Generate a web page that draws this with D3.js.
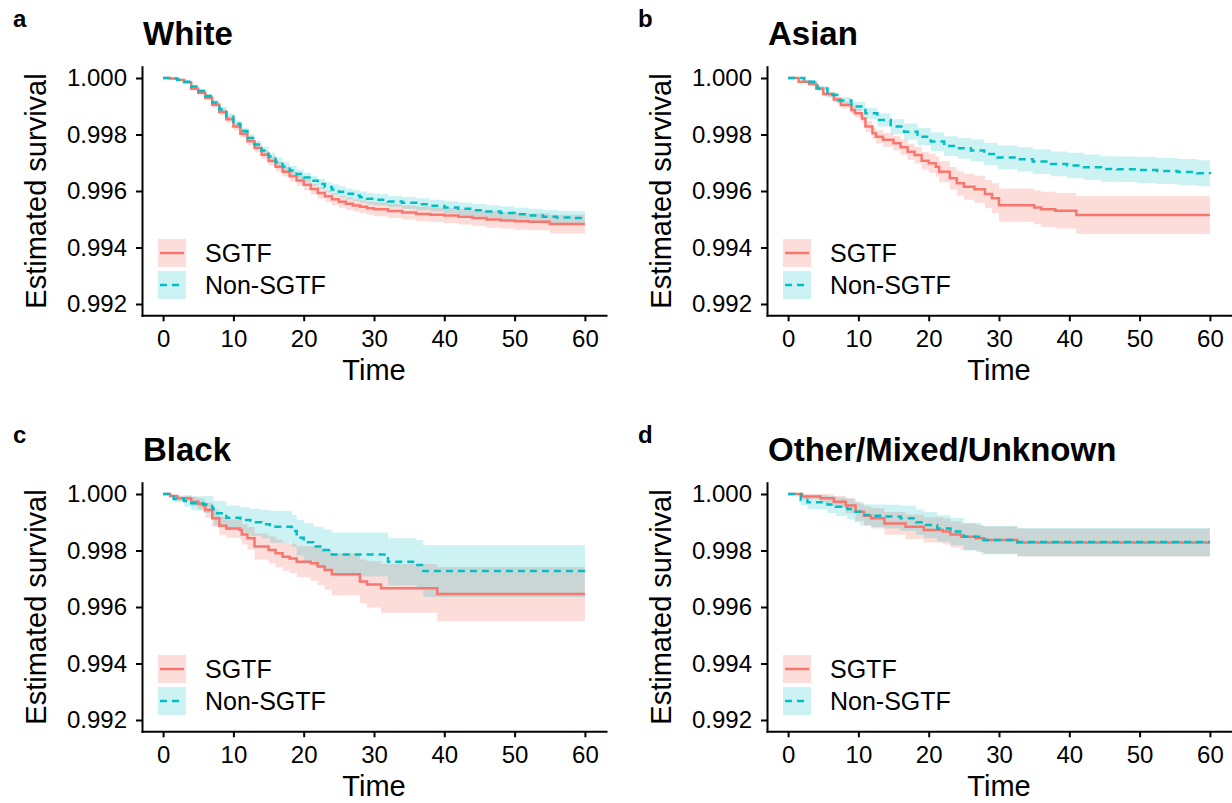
<!DOCTYPE html>
<html>
<head>
<meta charset="utf-8">
<script src="https://d3js.org/d3.v7.min.js"></script>
<title>Survival by ethnicity</title>
<style>
  body { margin: 0; background: #fff; }
  text { font-family: "Liberation Sans", Arial, Helvetica, sans-serif; fill: #000; }
</style>
</head>
<body>
<svg id="chart" width="1232" height="803"></svg>
<script>
// rows: [time, survival, lower, upper]
const whiteSGTF = [
  [0,1,1,1],[1,.99998,.99997,.99999],[2,.99993,.99990,.99996],[3,.99985,.99980,.99990],
  [4,.99962,.99956,.99968],[5,.99948,.99940,.99956],[6,.99930,.99921,.99939],[7,.99905,.99895,.99915],
  [8,.99880,.99869,.99891],[9,.99854,.99842,.99866],[10,.99828,.99815,.99841],[11,.99803,.99789,.99817],
  [12,.99776,.99762,.99790],[13,.99752,.99737,.99767],[14,.99728,.99713,.99743],[15,.99706,.99690,.99722],
  [16,.99686,.99669,.99703],[17,.99668,.99651,.99685],[18,.99652,.99634,.99670],[19,.99637,.99619,.99655],
  [20,.99622,.99603,.99641],[21,.99607,.99588,.99626],[22,.99593,.99573,.99613],[23,.99581,.99561,.99601],
  [24,.99571,.99550,.99592],[25,.99562,.99541,.99583],[26,.99555,.99533,.99577],[27,.99549,.99527,.99571],
  [28,.99544,.99521,.99567],[29,.99539,.99516,.99562],[30,.99535,.99511,.99559],[32,.99529,.99504,.99554],
  [34,.99524,.99499,.99549],[36,.99519,.99493,.99545],[38,.99516,.99490,.99542],[40,.99513,.99486,.99540],
  [42,.99509,.99481,.99537],[44,.99504,.99476,.99532],[46,.99499,.99470,.99528],[48,.99496,.99467,.99525],
  [50,.99493,.99463,.99523],[52,.99491,.99461,.99521],[55,.99483,.99450,.99516],[60,.99483,.99450,.99516]
];
const whiteNon = [
  [0,1,1,1],[1,.99998,.99997,.99999],[2,.99994,.99991,.99997],[3,.99987,.99983,.99991],
  [4,.99970,.99964,.99976],[5,.99954,.99947,.99961],[6,.99936,.99928,.99944],[7,.99913,.99904,.99922],
  [8,.99889,.99879,.99899],[9,.99864,.99853,.99875],[10,.99838,.99826,.99850],[11,.99812,.99800,.99824],
  [12,.99788,.99775,.99801],[13,.99765,.99752,.99778],[14,.99743,.99729,.99757],[15,.99722,.99708,.99736],
  [16,.99703,.99688,.99718],[17,.99687,.99672,.99702],[18,.99673,.99657,.99689],[19,.99660,.99644,.99676],
  [20,.99648,.99631,.99665],[21,.99636,.99619,.99653],[22,.99625,.99607,.99643],[23,.99614,.99596,.99632],
  [24,.99605,.99587,.99623],[25,.99597,.99578,.99616],[26,.99590,.99571,.99609],[27,.99584,.99565,.99603],
  [28,.99578,.99558,.99598],[29,.99573,.99553,.99593],[30,.99569,.99549,.99589],[32,.99563,.99543,.99583],
  [34,.99558,.99537,.99579],[36,.99553,.99532,.99574],[38,.99548,.99527,.99569],[40,.99542,.99520,.99564],
  [42,.99537,.99515,.99559],[44,.99532,.99510,.99554],[46,.99527,.99504,.99550],[48,.99522,.99499,.99545],
  [50,.99518,.99495,.99541],[52,.99513,.99489,.99537],[54,.99509,.99485,.99533],[56,.99506,.99482,.99530],
  [58,.99504,.99480,.99528],[60,.99503,.99479,.99527]
];
const asianSGTF = [
  [0,1,1,1],[1.5,.99987,.99984,.99990],[3,.99979,.99974,.99984],[4,.99963,.99957,.99969],
  [5,.99943,.99935,.99951],[6.5,.99924,.99914,.99934],[7.5,.99904,.99892,.99916],[9,.99887,.99874,.99900],
  [9.5,.99875,.99861,.99889],[10.5,.99857,.99841,.99873],[11,.99828,.99808,.99848],[12,.99804,.99782,.99826],
  [12.5,.99792,.99769,.99815],[13.5,.99781,.99757,.99805],[15,.99769,.99743,.99795],[16,.99755,.99728,.99782],
  [17,.99739,.99711,.99767],[18,.99727,.99697,.99757],[19,.99707,.99676,.99738],[20,.99698,.99665,.99731],
  [21,.99686,.99651,.99721],[21.5,.99668,.99631,.99705],[23,.99645,.99605,.99685],[24,.99627,.99584,.99670],
  [25,.99615,.99569,.99661],[26.5,.99606,.99558,.99654],[28,.99589,.99539,.99639],[29,.99574,.99521,.99627],
  [30,.99550,.99491,.99609],[35,.99542,.99482,.99602],[36,.99535,.99473,.99597],[38,.99530,.99467,.99593],
  [41,.99515,.99448,.99582],[60,.99515,.99448,.99582]
];
const asianNon = [
  [0,1,1,1],[2.3,.99987,.99982,.99992],[4.2,.99963,.99955,.99971],[5.6,.99940,.99930,.99950],
  [7,.99920,.99907,.99933],[9,.99899,.99883,.99915],[11,.99875,.99855,.99895],[12.7,.99851,.99828,.99874],
  [14.6,.99828,.99802,.99854],[16.5,.99810,.99781,.99839],[18.4,.99792,.99761,.99823],[20.3,.99775,.99742,.99808],
  [22.2,.99759,.99724,.99794],[24.1,.99751,.99714,.99788],[26,.99743,.99704,.99782],[27.9,.99731,.99691,.99771],
  [29.8,.99719,.99677,.99761],[32.6,.99712,.99669,.99755],[34.8,.99704,.99660,.99748],[37.4,.99696,.99652,.99740],
  [39.7,.99690,.99645,.99735],[42.1,.99684,.99639,.99729],[44.5,.99678,.99633,.99723],[46.8,.99677,.99632,.99722],
  [49.7,.99674,.99628,.99720],[52.5,.99671,.99625,.99717],[55.4,.99667,.99621,.99713],[58.2,.99663,.99617,.99709],
  [60,.99660,.99614,.99706]
];
const blackSGTF = [
  [0,1,1,1],[1,.99993,.99988,.99998],[2,.99985,.99975,.99995],[4,.99973,.99957,.99989],
  [5,.99965,.99945,.99985],[5.7,.99959,.99937,.99981],[6,.99943,.99916,.99970],[7,.99914,.99884,.99944],
  [8,.99888,.99856,.99920],[9,.99878,.99845,.99911],[10.9,.99873,.99839,.99907],[11.2,.99857,.99821,.99893],
  [12,.99843,.99803,.99883],[13,.99814,.99768,.99860],[15,.99802,.99754,.99850],[16,.99790,.99741,.99839],
  [17,.99778,.99728,.99828],[18,.99772,.99720,.99824],[19,.99760,.99705,.99815],[21,.99755,.99693,.99817],
  [22,.99743,.99677,.99809],[23,.99731,.99661,.99801],[24,.99716,.99642,.99790],[28,.99690,.99612,.99768],
  [29,.99680,.99598,.99762],[31,.99666,.99580,.99752],[39,.99646,.99550,.99742],[60,.99646,.99550,.99742]
];
const blackNon = [
  [0,1,1,1],[1.5,.99982,.99972,.99992],[3,.99975,.99955,.99995],[4,.99967,.99942,.99992],
  [5.7,.99963,.99933,.99993],[7,.99949,.99909,.99989],[7.2,.99932,.99889,.99975],[9,.99916,.99873,.99959],
  [11,.99908,.99863,.99953],[12.4,.99900,.99852,.99948],[14,.99893,.99843,.99943],[15.2,.99884,.99827,.99941],
  [18.3,.99869,.99812,.99926],[19,.99845,.99782,.99908],[20,.99829,.99761,.99897],[21.4,.99814,.99744,.99884],
  [22.8,.99802,.99730,.99874],[24,.99786,.99708,.99864],[32,.99760,.99677,.99843],[36,.99749,.99661,.99837],
  [37,.99727,.99635,.99819],[60,.99727,.99635,.99819]
];
const otherSGTF = [
  [0,1,1,1],[2,.99991,.99981,1],[4.6,.99985,.99970,1],[6.5,.99973,.99953,.99993],
  [8.2,.99959,.99932,.99986],[9.6,.99937,.99905,.99969],[10.8,.99923,.99889,.99957],[11.8,.99914,.99878,.99950],
  [13.7,.99896,.99856,.99936],[16.7,.99884,.99841,.99927],[19.3,.99873,.99828,.99918],[22,.99867,.99821,.99913],
  [23.1,.99857,.99811,.99903],[24.6,.99849,.99802,.99896],[26.7,.99843,.99795,.99891],[27.9,.99837,.99789,.99885],
  [32.6,.99828,.99779,.99877],[60,.99828,.99779,.99877]
];
const otherNon = [
  [0,1,1,1],[1.8,.99979,.99961,.99997],[2.75,.99971,.99946,.99996],[5.6,.99963,.99933,.99993],
  [6.8,.99955,.99922,.99988],[8.4,.99947,.99911,.99983],[9.4,.99937,.99900,.99974],[10.3,.99926,.99888,.99964],
  [11.8,.99923,.99883,.99963],[13.7,.99920,.99878,.99962],[16,.99914,.99870,.99958],[18.2,.99900,.99855,.99945],
  [19.3,.99890,.99844,.99936],[21.2,.99878,.99831,.99925],[23.1,.99867,.99819,.99915],[25,.99849,.99800,.99898],
  [27.4,.99837,.99787,.99887],[32.6,.99830,.99780,.99880],[60,.99830,.99780,.99880]
];

const panelLetters = ["a", "b", "c", "d"];
const panelTitles = ["White", "Asian", "Black", "Other/Mixed/Unknown"];
const groupNames = ["SGTF", "Non-SGTF"];
const xTicks = [0, 10, 20, 30, 40, 50, 60];
const yTicks = [0.992, 0.994, 0.996, 0.998, 1.000];

const panels = [
  {letter: panelLetters[0], title: panelTitles[0], series: [whiteSGTF, whiteNon], left: 142, top: 66.7},
  {letter: panelLetters[1], title: panelTitles[1], series: [asianSGTF, asianNon], left: 767, top: 66.7},
  {letter: panelLetters[2], title: panelTitles[2], series: [blackSGTF, blackNon], left: 142, top: 482.7},
  {letter: panelLetters[3], title: panelTitles[3], series: [otherSGTF, otherNon], left: 767, top: 482.7}
];

const colors = ["#F8766D", "#00BFC4"];
const ribbonAlpha = [0.25, 0.2];
const dashes = [null, "7,5"];

const W = 464, H = 248.6;
const x = d3.scaleLinear().domain([-3, 63]).range([0, W]);
const y = d3.scaleLinear().domain([0.9916, 1.0004]).range([H, 0]);

const line = d3.line().curve(d3.curveStepAfter).x(d => x(d[0])).y(d => y(d[1]));
const area = d3.area().curve(d3.curveStepAfter).x(d => x(d[0])).y0(d => y(d[2])).y1(d => y(d[3]));

const svg = d3.select("#chart");

panels.forEach(p => {
  const g = svg.append("g").attr("transform", `translate(${p.left},${p.top})`);

  // ribbons first, then the curves
  p.series.forEach((s, i) => {
    g.append("path").datum(s).attr("d", area)
      .attr("fill", colors[i]).attr("fill-opacity", ribbonAlpha[i]);
  });
  p.series.forEach((s, i) => {
    g.append("path").datum(s).attr("d", line)
      .attr("fill", "none").attr("stroke", colors[i]).attr("stroke-width", 2.5)
      .attr("stroke-dasharray", dashes[i]);
  });

  const yAxis = g.append("g")
    .call(d3.axisLeft(y).tickValues(yTicks).tickFormat(d3.format(".3f")).tickSize(6).tickSizeOuter(0).tickPadding(9));
  const xAxis = g.append("g").attr("transform", `translate(0,${H})`)
    .call(d3.axisBottom(x).tickValues(xTicks).tickSize(6).tickSizeOuter(0).tickPadding(9));
  [yAxis, xAxis].forEach(a => {
    a.selectAll("path.domain").attr("stroke", "#000").attr("stroke-width", 2).attr("stroke-linecap", "square");
    a.selectAll(".tick line").attr("stroke", "#000").attr("stroke-width", 2);
    a.selectAll(".tick text").attr("font-size", 24).attr("fill", "#000")
      .attr("font-family", "Liberation Sans, Arial, sans-serif");
  });

  g.append("text").attr("x", W / 2).attr("y", H + 65).attr("text-anchor", "middle")
    .attr("font-size", 29).text("Time");
  g.append("text").attr("transform", `translate(-96,${H / 2}) rotate(-90)`).attr("text-anchor", "middle")
    .attr("font-size", 29).text("Estimated survival");

  g.append("text").attr("x", 1).attr("y", -21.7).attr("font-size", 33).attr("font-weight", "bold").text(p.title);
  g.append("text").attr("x", -129).attr("y", -39.7).attr("font-size", 24).attr("font-weight", "bold").text(p.letter);

  // legend
  const leg = g.append("g").attr("transform", "translate(16,172.3)");
  groupNames.forEach((name, i) => {
    const row = leg.append("g").attr("transform", `translate(0,${i * 32})`);
    row.append("rect").attr("width", 28).attr("height", 28)
      .attr("fill", colors[i]).attr("fill-opacity", ribbonAlpha[i]);
    row.append("line").attr("x1", 2).attr("x2", 26).attr("y1", 14).attr("y2", 14)
      .attr("stroke", colors[i]).attr("stroke-width", 2.5).attr("stroke-dasharray", dashes[i]);
    row.append("text").attr("x", 47).attr("y", 14).attr("dy", "0.36em")
      .attr("font-size", 25).text(name);
  });
});
</script>
</body>
</html>
